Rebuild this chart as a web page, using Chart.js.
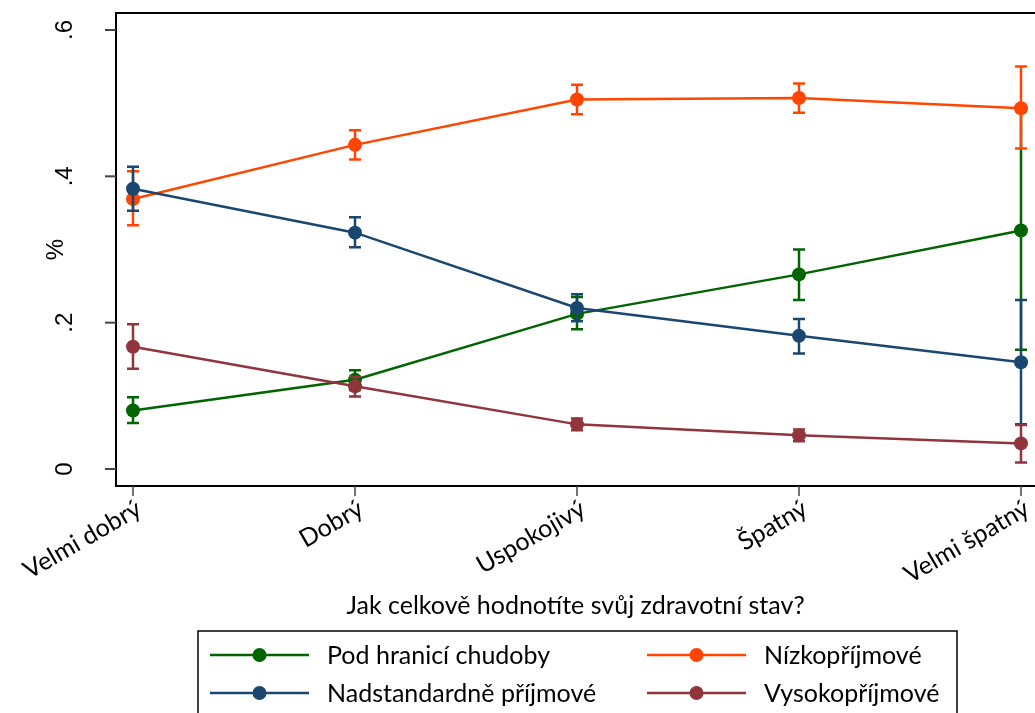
<!DOCTYPE html>
<html>
<head>
<meta charset="utf-8">
<script src="https://cdn.jsdelivr.net/npm/chart.js@4"></script>
<style>
  body { margin: 0; background: #fff; overflow: hidden; }
  canvas { display: block; }
</style>
</head>
<body>
<canvas id="health-chart" width="1035" height="713"></canvas>
<script>
// categories (x axis)
var categories = ['Velmi dobrý', 'Dobrý', 'Uspokojivý', 'Špatný', 'Velmi špatný'];

// y axis ticks
var yTicks = [0, 0.2, 0.4, 0.6];
var yTickLabels = ['0', '.2', '.4', '.6'];

// series names
var seriesNames = ['Pod hranicí chudoby', 'Nízkopříjmové', 'Nadstandardně příjmové', 'Vysokopříjmové'];

// margins + confidence intervals
var podVal = [0.080, 0.122, 0.212, 0.266, 0.326];
var podLo  = [0.063, 0.108, 0.191, 0.231, 0.163];
var podHi  = [0.098, 0.135, 0.235, 0.300, 0.489];

var nizVal = [0.369, 0.443, 0.505, 0.507, 0.493];
var nizLo  = [0.333, 0.423, 0.485, 0.487, 0.438];
var nizHi  = [0.407, 0.463, 0.525, 0.527, 0.550];

var nadVal = [0.383, 0.323, 0.220, 0.182, 0.146];
var nadLo  = [0.353, 0.303, 0.202, 0.158, 0.061];
var nadHi  = [0.413, 0.344, 0.239, 0.205, 0.231];

var vysVal = [0.167, 0.113, 0.061, 0.046, 0.035];
var vysLo  = [0.137, 0.099, 0.053, 0.038, 0.009];
var vysHi  = [0.198, 0.126, 0.069, 0.054, 0.060];

var colors = ['#006400', '#ff4500', '#1a476f', '#90353b'];

var xTitle = 'Jak celkově hodnotíte svůj zdravotní stav?';
var yTitle = '%';

var textFont = 'Lato, "Open Sans", sans-serif';
var numFont = '"Liberation Sans", Arial, sans-serif';

function points(vals) {
	return vals.map(function (v, i) { return {x: i, y: v}; });
}

var values = [podVal, nizVal, nadVal, vysVal];
var lows = [podLo, nizLo, nadLo, vysLo];
var highs = [podHi, nizHi, nadHi, vysHi];

var datasets = values.map(function (vals, k) {
	return {
		label: seriesNames[k],
		data: points(vals),
		// later series sit on top, like in Stata
		order: values.length - k,
		borderColor: colors[k],
		backgroundColor: colors[k],
		borderWidth: 2.5,
		pointRadius: 7,
		pointHoverRadius: 7,
		pointBorderWidth: 0,
		tension: 0,
		clip: false,
		ciLow: lows[k],
		ciHigh: highs[k]
	};
});

// confidence interval caps, drawn under each line
var errorBars = {
	id: 'errorBars',
	beforeDatasetDraw: function (chart, args) {
		var ds = chart.data.datasets[args.index];
		var x = chart.scales.x, y = chart.scales.y;
		var ctx = chart.ctx;
		ctx.save();
		ctx.strokeStyle = ds.borderColor;
		ctx.lineWidth = 2.5;
		for (var i = 0; i < ds.ciLow.length; i++) {
			var px = x.getPixelForValue(i);
			var lo = y.getPixelForValue(ds.ciLow[i]);
			var hi = y.getPixelForValue(ds.ciHigh[i]);
			ctx.beginPath();
			ctx.moveTo(px, lo); ctx.lineTo(px, hi);
			ctx.moveTo(px - 6, lo); ctx.lineTo(px + 6, lo);
			ctx.moveTo(px - 6, hi); ctx.lineTo(px + 6, hi);
			ctx.stroke();
		}
		ctx.restore();
	}
};

// Stata style frame, ticks, titles and legend
var frame = {
	id: 'frame',
	beforeDatasetsDraw: function (chart) {
		var a = chart.chartArea, ctx = chart.ctx;
		var x = chart.scales.x, y = chart.scales.y;
		ctx.save();
		ctx.strokeStyle = '#000';
		ctx.lineWidth = 2;
		ctx.beginPath();
		ctx.moveTo(a.right + 2, a.top);
		ctx.lineTo(a.left, a.top);
		ctx.lineTo(a.left, a.bottom);
		ctx.lineTo(a.right + 2, a.bottom);
		ctx.stroke();

		// y ticks
		ctx.strokeStyle = '#444';
		ctx.fillStyle = '#000';
		ctx.font = '24px ' + numFont;
		yTicks.forEach(function (t, i) {
			var py = y.getPixelForValue(t);
			ctx.beginPath();
			ctx.moveTo(a.left - 11, py); ctx.lineTo(a.left, py);
			ctx.stroke();
			ctx.save();
			ctx.translate(72, py);
			ctx.rotate(-Math.PI / 2);
			ctx.textAlign = 'center';
			ctx.textBaseline = 'alphabetic';
			ctx.fillText(yTickLabels[i], 0, 0);
			ctx.restore();
		});

		// y title
		ctx.save();
		ctx.font = '24px ' + numFont;
		ctx.translate(63, (a.top + a.bottom) / 2);
		ctx.rotate(-Math.PI / 2);
		ctx.textAlign = 'center';
		ctx.textBaseline = 'alphabetic';
		ctx.fillText(yTitle, 0, 0);
		ctx.restore();

		// x ticks + rotated labels
		ctx.lineWidth = 1.5;
		ctx.font = '25px ' + textFont;
		categories.forEach(function (c, i) {
			var px = x.getPixelForValue(i);
			ctx.beginPath();
			ctx.moveTo(px, a.bottom); ctx.lineTo(px, a.bottom + 10);
			ctx.stroke();
			ctx.save();
			ctx.translate(px, a.bottom + 10);
			ctx.rotate(-30 * Math.PI / 180);
			ctx.textAlign = 'right';
			ctx.textBaseline = 'top';
			ctx.fillText(c, 0, 0);
			ctx.restore();
		});

		// x title
		ctx.textAlign = 'center';
		ctx.textBaseline = 'alphabetic';
		ctx.fillText(xTitle, (a.left + a.right) / 2, 614);

		// legend
		ctx.lineWidth = 1.5;
		ctx.strokeStyle = '#000';
		ctx.strokeRect(198, 631, 759, 100);
		var colX = [210, 647];
		var rowY = [655, 693];
		chart.data.datasets.forEach(function (ds, k) {
			var lx = colX[k % 2], ly = rowY[Math.floor(k / 2)];
			ctx.strokeStyle = ds.borderColor;
			ctx.fillStyle = ds.borderColor;
			ctx.lineWidth = 2.5;
			ctx.beginPath();
			ctx.moveTo(lx, ly); ctx.lineTo(lx + 99, ly);
			ctx.stroke();
			ctx.beginPath();
			ctx.arc(lx + 49.5, ly, 7, 0, Math.PI * 2);
			ctx.fill();
			ctx.fillStyle = '#000';
			ctx.textAlign = 'left';
			ctx.textBaseline = 'middle';
			ctx.fillText(ds.label, lx + 117, ly + 1);
		});
		ctx.restore();
	}
};

// pixel geometry of the plot region
var xPadL = 17 / 222, xPadR = 14 / 222;
var yPad = 17 / 731.7;

new Chart('health-chart', {
	type: 'line',
	data: { datasets: datasets },
	options: {
		responsive: false,
		devicePixelRatio: 1,
		animation: false,
		layout: { autoPadding: false, padding: { left: 116, top: 13, right: 0, bottom: 227 } },
		plugins: {
			legend: { display: false },
			tooltip: { enabled: false }
		},
		scales: {
			x: { type: 'linear', display: false, min: -xPadL, max: categories.length - 1 + xPadR },
			y: { type: 'linear', display: false, min: -yPad, max: 0.6 + yPad }
		}
	},
	plugins: [frame, errorBars]
});
</script>
</body>
</html>
